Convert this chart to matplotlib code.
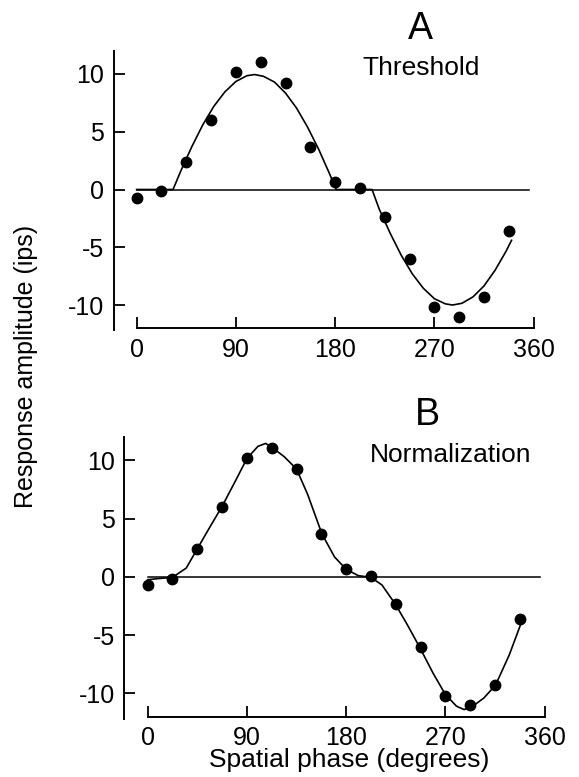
import matplotlib
matplotlib.use("Agg")
import matplotlib.pyplot as plt

plt.rcParams['font.family'] = ['Liberation Sans', 'DejaVu Sans']
plt.rcParams['axes.unicode_minus'] = False

# measured responses (same cell, both panels)
phase = [0, 22.5, 45, 67.5, 90, 112.5, 135, 157.5, 180, 202.5, 225, 247.5, 270, 292.5, 315, 337.5]
resp = [-0.7, -0.15, 2.35, 6.0, 10.2, 11.05, 9.25, 3.7, 0.65, 0.1, -2.35, -6.05, -10.2, -11.0, -9.3, -3.6]

# model fit A: threshold
thr_x = [0, 33, 40, 50, 60, 70, 80, 90, 100, 107, 115, 125, 135, 145, 155, 165, 175, 181,
         213.5, 220, 230, 240, 250, 260, 270, 280, 286.5, 295, 305, 315, 325, 335, 340]
thr_y = [0, 0, 1.6, 3.7, 5.6, 7.2, 8.45, 9.35, 9.85, 9.95, 9.8, 9.3, 8.35, 7.05, 5.4, 3.5, 1.35, 0,
         0, -1.7, -3.8, -5.7, -7.3, -8.55, -9.45, -9.9, -10.0, -9.85, -9.3, -8.35, -7.0, -5.35, -4.4]

# model fit B: normalization
nrm_x = [0, 10, 22.5, 35, 45, 56, 67.5, 80, 90, 100, 107, 113, 124, 135, 145, 158, 169.5,
         180, 191, 202.5, 212.5, 225, 236, 247, 259, 270, 280, 287, 295, 305, 315.5, 328, 341]
nrm_y = [-0.25, -0.15, -0.05, 0.75, 2.4, 4.2, 6.05, 8.3, 10.15, 11.2, 11.45, 11.1, 10.3, 9.25, 7.1,
         3.7, 1.7, 0.65, 0.1, -0.05, -0.7, -2.4, -4.2, -6.1, -8.3, -10.1, -11.1, -11.4, -11.1,
         -10.4, -9.3, -6.7, -3.4]

base_x = [0, 356]
base_y = [0, 0]

xticks = [0, 90, 180, 270, 360]
yticks = [-10, -5, 0, 5, 10]
ytick_labels = ['-10', '-5', '0', '5', '10']

W, H = 579, 777
fig = plt.figure(figsize=(W / 100, H / 100), dpi=100)


def px(x0, y0, x1, y1):
    return [x0 / W, 1 - y1 / H, (x1 - x0) / W, (y1 - y0) / H]


def panel(rect, fx, fy):
    ax = fig.add_axes(rect)
    ax.plot(base_x, base_y, color='black', lw=1.1)
    ax.plot(fx, fy, color='black', lw=1.2)
    ax.plot(phase, resp, 'o', color='black', ms=7.5)
    ax.set_xlim(-21, 365)
    ax.set_ylim(-12.5, 12.5)
    ax.spines['top'].set_visible(False)
    ax.spines['right'].set_visible(False)
    ax.spines['left'].set_bounds(-12.2, 12.0)
    ax.spines['bottom'].set_position(('data', -12))
    ax.spines['bottom'].set_bounds(0, 360)
    for s in ('left', 'bottom'):
        ax.spines[s].set_linewidth(1.4)
    ax.set_xticks(xticks)
    ax.set_xticklabels([str(t) for t in xticks])
    ax.set_yticks(yticks)
    ax.set_yticklabels(ytick_labels)
    ax.tick_params(direction='in', length=8, width=1.3, labelsize=18, pad=7)
    return ax


panel(px(113.5, 45.1, 539.1, 333.9), thr_x, thr_y)
panel(px(124.5, 431.2, 550.1, 722.4), nrm_x, nrm_y)

fig.text(420 / W, 1 - 39 / H, 'A', fontsize=27, ha='center', va='baseline')
fig.text(421 / W, 1 - 75 / H, 'Threshold', fontsize=19, ha='center', va='baseline')
fig.text(427 / W, 1 - 425 / H, 'B', fontsize=27, ha='center', va='baseline')
fig.text(451 / W, 1 - 462 / H, 'Normalization', fontsize=19, ha='center', va='baseline')

fig.text(26 / W, 1 - 366 / H, 'Response amplitude (ips)', fontsize=18,
         rotation=90, ha='center', va='center')
fig.text(349 / W, 1 - 767 / H, 'Spatial phase (degrees)', fontsize=19,
         ha='center', va='baseline')

fig.savefig('out.png', dpi=100)
